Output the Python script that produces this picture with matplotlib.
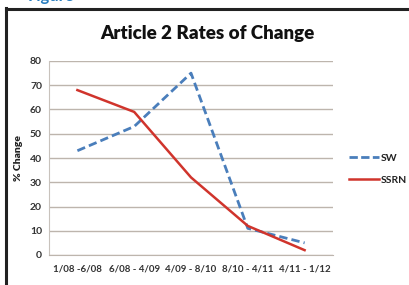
import matplotlib
matplotlib.use("Agg")
import matplotlib.pyplot as plt
from matplotlib.lines import Line2D

categories = ["1/08 -6/08", "6/08 - 4/09", "4/09 - 8/10", "8/10 - 4/11", "4/11 - 1/12"]
sw = [43, 53, 75, 11, 5]
ssrn = [68, 59, 32, 12, 2]
yticks = [0, 10, 20, 30, 40, 50, 60, 70, 80]

plt.rcParams['font.family'] = ['Lato', 'DejaVu Sans']

W, H = 409, 285
fig = plt.figure(figsize=(W/100, H/100), dpi=100)
fig.patch.set_facecolor('white')

ax = fig.add_axes([49/W, (H-255)/H, (333-49)/W, (255-61)/H])
x = list(range(len(categories)))
ax.plot(x, sw, color='#4a7ebb', lw=2.0, ls=(0, (3, 1.5)), label='SW')
ax.plot(x, ssrn, color='#d0342c', lw=1.8, label='SSRN')
ax.set_xlim(-0.5, len(categories)-0.5)
ax.set_ylim(0, 80)
ax.set_yticks(yticks)
ax.set_yticklabels([str(v) for v in yticks], fontsize=7.5, color='#333333', fontweight='bold')
ax.set_xticks(x)
ax.set_xticklabels(categories, fontsize=7, color='#333333', fontweight='bold')
ax.tick_params(length=0, pad=5)
ax.tick_params(axis='x', pad=7)
ax.grid(axis='y', color='#bdb5ad', lw=1)
ax.set_axisbelow(True)
for s in ['top', 'right']:
    ax.spines[s].set_visible(False)
ax.spines['left'].set_color('#c8c2bc')
ax.spines['bottom'].set_color('#bdb5ad')
ax.set_ylabel('% Change', fontsize=7.5, fontweight='heavy', color='#222222', labelpad=5)

fig.text(207/W, 1-33/H, 'Article 2 Rates of Change', ha='center', va='center',
         fontsize=13.5, fontweight='heavy', color='#111111')

handles = [Line2D([], [], color='#4a7ebb', lw=2.0, ls=(0, (3, 1.2))),
           Line2D([], [], color='#d0342c', lw=1.8)]
fig.legend(handles, ['SW', 'SSRN'], loc='center left', bbox_to_anchor=(340/W, 1-169/H),
           frameon=False, prop={'size': 7.5, 'weight': 'bold'}, handlelength=2.8,
           handletextpad=0.2, labelspacing=1.2, labelcolor='#222222')

# outer frame
fig.add_artist(Line2D([6/W, 6/W], [0, 1-8/H], color='#222222', lw=2.2))
fig.add_artist(Line2D([6/W, 1], [1-9/H, 1-9/H], color='#222222', lw=2.2))
fig.text(28/W, 1+4/H, 'Figure', color='#2a7fc0', fontsize=12, fontweight='bold',
         ha='left', va='center')

fig.savefig('out.png', dpi=100)
